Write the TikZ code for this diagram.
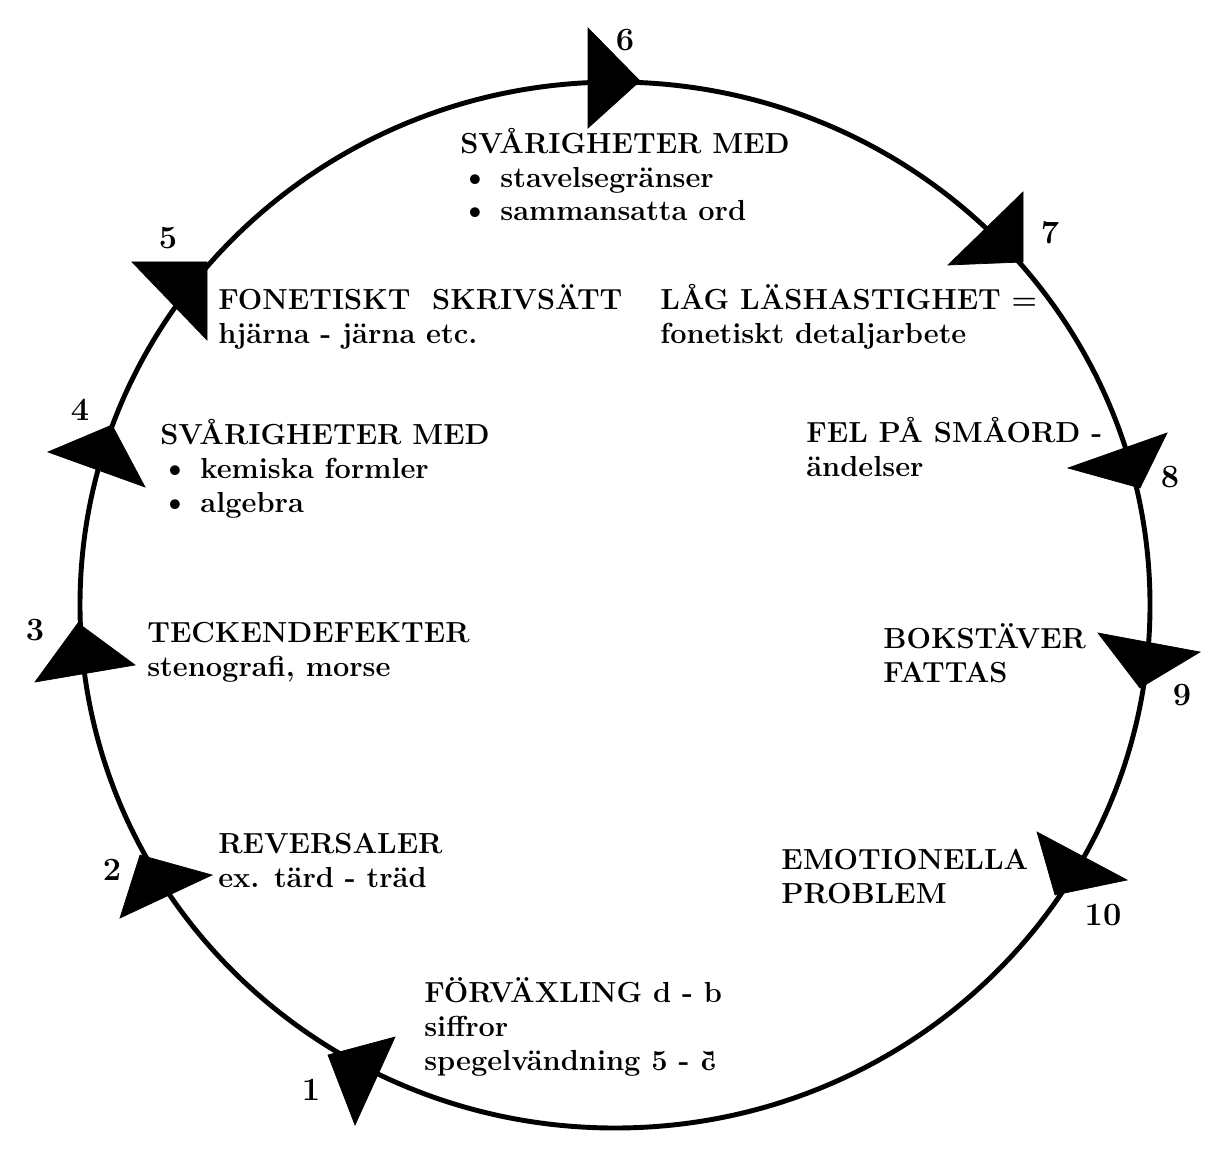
\documentclass[tikz,border=0pt]{standalone}
\usepackage{graphicx}
\usetikzlibrary{positioning}
\newcommand{\punkt}{{\fontsize{19}{19}\selectfont\textbullet}}

\begin{document}
\begin{tikzpicture}[x=0.02cm,y=-0.02cm]
    \tikzstyle{ring}=[draw=black, line width=2.8pt]
    \tikzstyle{pil}=[fill=black, draw=black, line width=0.4pt, line join=miter]
    \tikzstyle{nummer}=[font=\fontsize{18.5}{20}\selectfont\bfseries, inner sep=0pt]
    % ankare = baslinjen for sista raden
    \tikzstyle{ruta}=[font=\fontsize{16.5}{19.3}\selectfont\bfseries, align=left, anchor=base west, inner sep=0pt]

    \useasboundingbox (0,0) rectangle (1216,1155);

    % cirkeln
    \draw[ring] (615,605) ellipse [x radius=535, y radius=523];

    % pilspetsar, medurs
	\foreach \n/\ax/\ay/\bx/\by/\cx/\cy in {1/328/1055/395/1037/355/1125,
		2/140/855/212/875/120/918, 3/78/623/135/665/35/682,
		4/112/425/48/452/145/487, 5/132/262/207/262/207/340,
		6/588/28/640/81/588/128, 7/1023/192/1023/262/948/265,
		8/1167/433/1068/468/1140/488, 9/1098/633/1200/652/1140/688,
		10/1037/832/1127/880/1055/895}{
		\fill[pil] (\ax,\ay) -- (\bx,\by) -- (\cx,\cy) -- cycle;
	}

	\foreach \n/\px/\py in {1/311/1090, 2/112/870, 3/35/630, 4/80/410, 5/168/238,
		6/625/40, 7/1050/233, 8/1170/477, 9/1182/695, 10/1103/915}{
		\node[nummer] (N-\n) at (\px,\py) {\n};
	}

    \node[ruta] (T-1) at (424,1070) {FÖRVÄXLING d - b\\siffror\\spegelvändning 5 - \reflectbox{5}};
    \node[ruta] (T-2) at (218,887) {REVERSALER\\ex. tärd - träd};
    \node[ruta] (T-3) at (147,676) {TECKENDEFEKTER\\stenografi, morse};
    \node[ruta] (T-4) at (160,512) {SVÅRIGHETER MED\\\punkt\ kemiska formler\\\punkt\ algebra};
    \node[ruta] (T-5) at (218,343) {FONETISKT\ \ SKRIVSÄTT\\hjärna - järna etc.};
    \node[ruta] (T-6) at (460,221) {SVÅRIGHETER MED\\\punkt\ stavelsegränser\\\punkt\ sammansatta ord};
    \node[ruta] (T-7) at (660,343) {LÅG LÄSHASTIGHET =\\fonetiskt detaljarbete};
    \node[ruta] (T-8) at (806,476) {FEL PÅ SMÅORD -\\ändelser};
    \node[ruta] (T-9) at (883,682) {BOKSTÄVER\\FATTAS};
    \node[ruta] (T-10) at (781,903) {EMOTIONELLA\\PROBLEM};
\end{tikzpicture}
\end{document}
